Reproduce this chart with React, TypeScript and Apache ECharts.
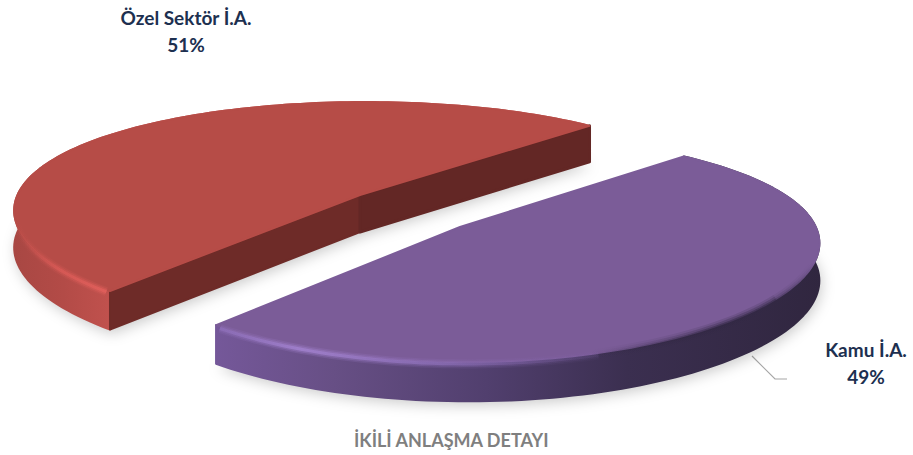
import React, { useEffect, useRef } from "react";
import * as echarts from "echarts";

const names = ["Özel Sektör İ.A.", "Kamu İ.A."];
const values = [51.4, 48.6];
const percentLabels = ["51%", "49%"];
const chartTitle = "İKİLİ ANLAŞMA DETAYI";

const STARTS = [44.5, 45.8]; // angle where each slice starts
const RX = 349, RY = 110, K = 0.184, KX = 0.14, M = 0.019, THICK = 37;
const CENTERS = [[360, 195], [460, 227]];

const grad = (x0: number, x1: number, stops: [number, string][]) =>
  new echarts.graphic.LinearGradient(x0, 0, x1, 0, stops.map(([offset, color]) => ({ offset, color })), true);
const gradY = (y0: number, y1: number, stops: [number, string][]) =>
  new echarts.graphic.LinearGradient(0, y0, 0, y1, stops.map(([offset, color]) => ({ offset, color })), true);

function project(c: number[], deg: number, drop = 0): number[] {
  const a = (deg * Math.PI) / 180;
  const u = Math.cos(a), v = -Math.sin(a);
  const sy = 1 / (1 - K * v - M * u);
  const sx = 1 / (1 - KX * v - M * u);
  return [c[0] + RX * u * sx, c[1] + RY * v * sy + drop * (1 + (sy - 1) * 0.3)];
}
function arc(c: number[], a0: number, a1: number, drop = 0): number[][] {
  const n = Math.max(2, Math.ceil(Math.abs(a1 - a0) / 1.5));
  const out: number[][] = [];
  for (let i = 0; i <= n; i++) out.push(project(c, a0 + ((a1 - a0) * i) / n, drop));
  return out;
}
const poly = (points: number[][], fill: any, extra: any = {}) => ({
  type: "polygon", shape: { points }, style: { fill, ...extra },
});
const stroke = (points: number[][], color: any, lineWidth: number, opacity = 1) => ({
  type: "polyline", shape: { points },
  style: { fill: "none", stroke: color, lineWidth, opacity, lineCap: "butt", lineJoin: "round" },
});
const layered = (points: number[][], color: any, widths: [number, number][]) =>
  widths.map(([w, o]) => stroke(points, color, w, o));

function renderSlice(params: any, api: any) {
  const i = params.dataIndex;
  const total = values.reduce((a, b) => a + b, 0);
  const sweep = (api.value(0) / total) * 360;
  const c = CENTERS[i];
  const a0 = STARTS[i];
  const a1 = i === 0 ? a0 + sweep : a0 - sweep;
  const topArc = arc(c, a0, a1);
  const botArc = arc(c, a0, a1, THICK);
  const apexTop = [c[0], c[1]];
  const apexBot = [c[0], c[1] + THICK];
  const children: any[] = [];
  children.push(poly([...botArc, apexBot], "rgba(90,90,90,0.6)", {
    shadowBlur: 14, shadowColor: "rgba(0,0,0,0.35)", shadowOffsetY: 4, shadowOffsetX: 2,
  }));
  const wallFill = i === 0
    ? grad(12, 115, [[0, "#a84743"], [0.5, "#b34b47"], [1, "#c2524e"]])
    : grad(212, 822, [[0, "#75589a"], [0.2, "#674f85"], [0.45, "#513f6e"], [0.68, "#3b2f50"], [1, "#30263f"]]);
  children.push(poly([...topArc, ...botArc.slice().reverse()], wallFill, { stroke: wallFill, lineWidth: 2, lineJoin: "round" }));
  if (i === 0) {
    const tipT = topArc[topArc.length - 1], tipB = botArc[botArc.length - 1];
    const endT = topArc[0], endB = botArc[0];
    children.push(poly([apexTop, tipT, tipB, apexBot], "#6e2b28", { stroke: "#6e2b28", lineWidth: 2, lineJoin: "round" }));
    children.push(poly([apexTop, endT, endB, apexBot], "#632725", { stroke: "#632725", lineWidth: 3, lineJoin: "round" }));
  }
  const topFill = i === 0 ? "#b64c47" : "#7b5c98";
  children.push(poly([...topArc, apexTop], topFill, { stroke: topFill, lineWidth: 2, lineJoin: "round" }));
  if (i === 0) {
    const band = arc(c, 186, a1 - 0.8, 2);
    const g = grad(15, 112, [[0, "rgba(222,92,88,0)"], [0.45, "rgba(222,92,88,0.75)"], [1, "rgba(226,96,92,1)"]]);
    children.push(...layered(band, g, [[9, 0.2], [6, 0.4], [3, 0.8]]));
  } else {
    const band = arc(c, a1 + 0.8, -70, 2);
    const g = grad(214, 640, [[0, "rgba(150,118,195,0.6)"], [0.2, "rgba(165,132,210,1)"], [0.55, "rgba(150,118,195,0.7)"], [1, "rgba(130,100,170,0)"]]);
    children.push(...layered(band, g, [[9, 0.2], [6, 0.35], [3, 0.75]]));
    const darkA = arc(c, -72, -35, 1);
    const dA = grad(590, 720, [[0, "rgba(50,40,68,0)"], [1, "rgba(50,40,68,0.9)"]]);
    children.push(...layered(darkA, dA, [[11, 0.2], [7, 0.35], [3, 0.6]]));
    const darkB = arc(c, -35, 3, 1);
    const dB = gradY(262, 322, [[0, "rgba(50,40,68,0)"], [1, "rgba(50,40,68,0.9)"]]);
    children.push(...layered(darkB, dB, [[11, 0.2], [7, 0.35], [3, 0.6]]));
  }
  return { type: "group", children };
}

export default function App() {
  const ref = useRef<HTMLDivElement>(null);
  useEffect(() => {
    const chart = echarts.init(ref.current!, null, { renderer: "svg" });
    const labelStyle = { fontFamily: "Lato", fontWeight: "bold", fontSize: 19, lineHeight: 27, align: "center", fill: "#1d3050" };
    chart.setOption({
      animation: false,
      backgroundColor: "#ffffff",
      title: {
        text: chartTitle, left: 354, top: 431, padding: 0,
        textStyle: { fontFamily: "Lato", fontWeight: "bold", fontSize: 18, color: "#7f7f7f" },
      },
      series: [{
        type: "custom", coordinateSystem: "none", silent: true,
        renderItem: renderSlice,
        data: values.map((v, i) => ({ name: names[i], value: [v] })),
      }],
      graphic: [
        { type: "polyline", shape: { points: [[752, 356], [775, 379], [787, 379]] }, style: { fill: "none", stroke: "#a6a6a6", lineWidth: 1.2 } },
        { type: "text", x: 186, y: 4, style: { text: `${names[0]}\n${percentLabels[0]}`, ...labelStyle } },
        { type: "text", x: 866, y: 336, style: { text: `${names[1]}\n${percentLabels[1]}`, ...labelStyle } },
      ],
    });
    return () => chart.dispose();
  }, []);
  return <div ref={ref} style={{ position: "fixed", left: 0, top: 0, width: 913, height: 455 }} />;
}
